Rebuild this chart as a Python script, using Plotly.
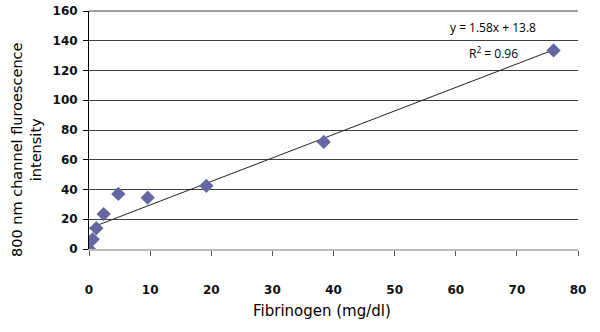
import plotly.graph_objects as go

fibrinogen = [0, 0.6, 1.2, 2.4, 4.8, 9.6, 19.2, 38.4, 76.0]
intensity = [0, 6.5, 14, 23.5, 37, 34.5, 42.5, 72, 133.5]
slope = 1.58
intercept = 13.8
r2 = 0.96
x_ticks = [0, 10, 20, 30, 40, 50, 60, 70, 80]
y_ticks = [0, 20, 40, 60, 80, 100, 120, 140, 160]

fit_x = [min(fibrinogen), max(fibrinogen)]
fit_y = [slope * v + intercept for v in fit_x]

FONT = "Open Sans"
TFONT = "DejaVu Sans"

L, R, T, B = 89, 22, 11, 83

fig = go.Figure()
fig.add_trace(go.Scatter(x=fit_x, y=fit_y, mode="lines",
                         line=dict(color="#222222", width=1), hoverinfo="skip"))
fig.add_trace(go.Scatter(x=fibrinogen, y=intensity, mode="markers",
                         marker=dict(symbol="diamond", size=11, color="#6666A3",
                                     line=dict(width=0))))

# top gridline (frame edge at the last y tick)
fig.add_shape(type="line", xref="paper", yref="paper", x0=0, x1=1, y0=1, y1=1,
              line=dict(color="#404040", width=1), layer="above")

fig.update_layout(
    width=600, height=332,
    margin=dict(l=L, r=R, t=T, b=B, autoexpand=False),
    paper_bgcolor="white", plot_bgcolor="white",
    showlegend=False,
    font=dict(family=FONT, color="black"),
    xaxis=dict(range=[0, 80], tickvals=x_ticks, showgrid=False, zeroline=False,
               automargin=False, ticklabeloverflow="allow",
               showline=True, linecolor="#BBBBBB", linewidth=2,
               ticks="outside", ticklen=5, tickcolor="#555555",
               ticklabelstandoff=24,
               tickfont=dict(family=TFONT, size=12, weight="bold", color="#111111")),
    yaxis=dict(range=[0, 160], tickvals=y_ticks, showgrid=True,
               automargin=False, ticklabeloverflow="allow",
               gridcolor="#404040", gridwidth=1, zeroline=False,
               showline=True, linecolor="black", linewidth=1,
               ticks="outside", ticklen=5, tickcolor="black",
               ticklabelstandoff=3,
               tickfont=dict(family=TFONT, size=12, weight="bold", color="#111111")),
    annotations=[
        dict(text="y = 1.58x + 13.8", x=493, y=28, xref="paper", yref="paper",
             showarrow=False, font=dict(size=12, family=FONT)),
        dict(text="R<sup>2</sup> = 0.96", x=493, y=53, xref="paper", yref="paper",
             showarrow=False, font=dict(size=12, family=FONT)),
        dict(text="Fibrinogen (mg/dl)", x=322, y=311, xref="paper", yref="paper",
             showarrow=False, font=dict(size=15, family=TFONT)),
        dict(text="800 nm channel fluroescence<br>intensity", x=26, y=150,
             xref="paper", yref="paper", textangle=-90, showarrow=False,
             font=dict(size=14.5, family=TFONT)),
    ],
)

pw = 600 - L - R
ph = 332 - T - B
for a in fig.layout.annotations:
    px, py = a.x, a.y
    a.x = (px - L) / pw
    a.y = 1 - (py - T) / ph
    a.xanchor = "center"
    a.yanchor = "middle"

fig.write_html("out.html", config={"displayModeBar": False},
               post_script="document.body.style.margin='0';document.body.style.padding='0';")
